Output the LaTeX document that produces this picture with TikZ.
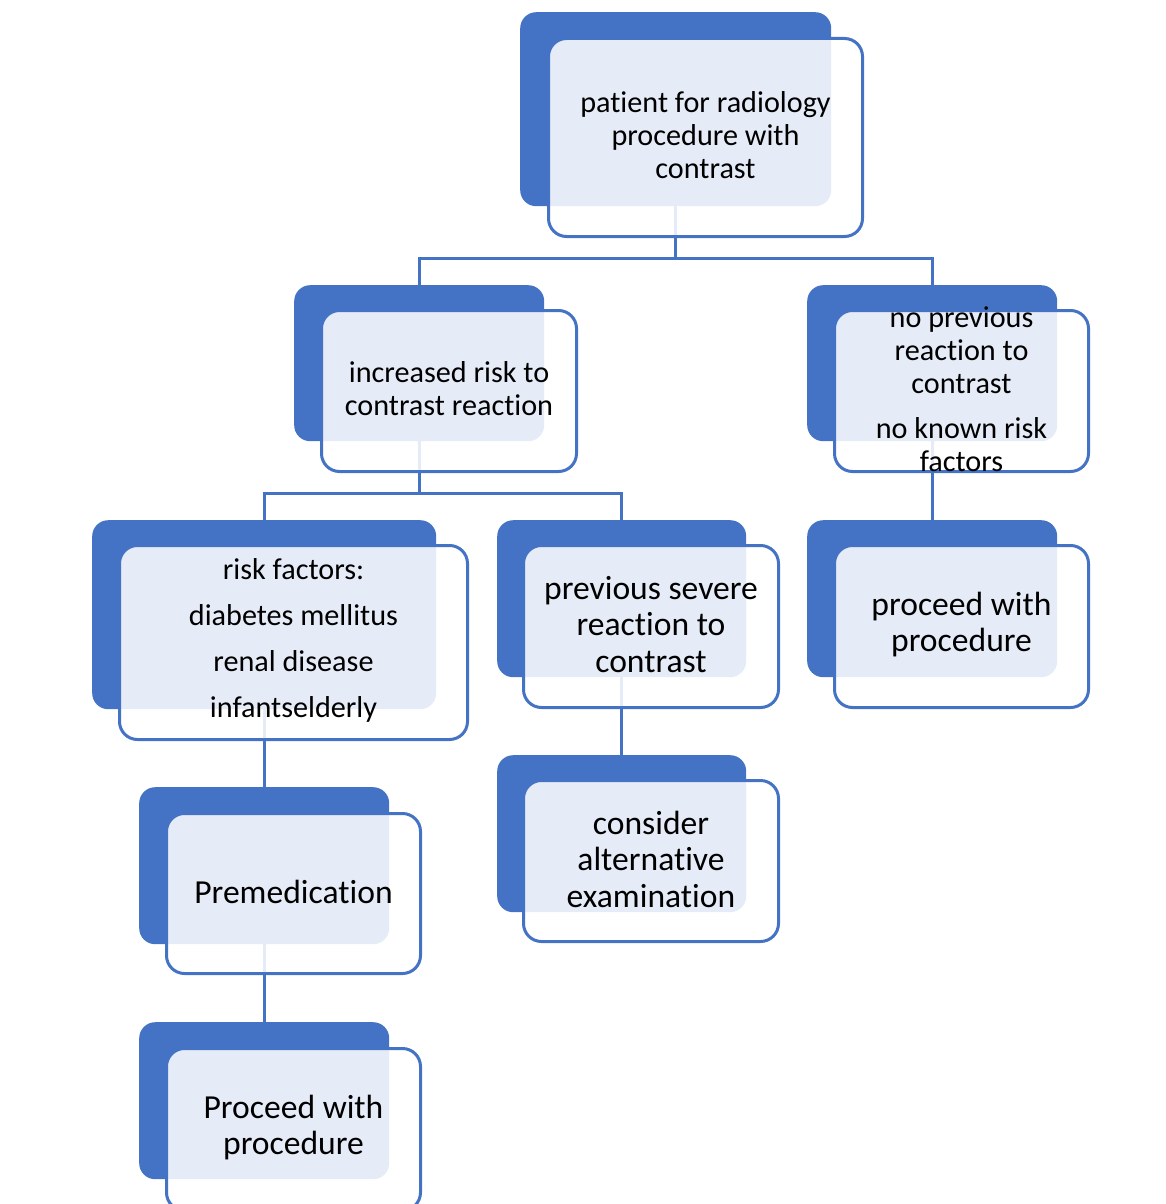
\documentclass[tikz,border=0pt]{standalone}
\usepackage{fontspec}
\setmainfont{Carlito}[Ligatures=NoCommon]
\usetikzlibrary{positioning}
\definecolor{accent}{HTML}{4472C4}
\pgfdeclarelayer{background}
\pgfsetlayers{background,main}

\begin{document}
\begin{tikzpicture}[x=1pt,y=-1pt,
  back/.style={fill=accent,rounded corners=16pt,anchor=north west,inner sep=0pt},
  front/.style={draw=accent,line width=3pt,fill=white,fill opacity=0.87,draw opacity=1,
    rounded corners=18pt,anchor=north west,inner sep=0pt},
  txt/.style={align=center,text=black,inner sep=0pt,yshift=2pt,font=\fontsize{30.2}{33}\selectfont},
  big/.style={txt,font=\fontsize{33.6}{36.5}\selectfont},
  link/.style={draw=accent,line width=3pt}]
  \clip (0,0) rectangle (1166,1204);

  % top
  \node[back,minimum width=311pt,minimum height=194pt] (b1) at (520,12) {};
  \node[front,minimum width=314pt,minimum height=198pt] (f1) at ([shift={(27,25)}]b1.north west) {};
  \node[txt] (t1) at (f1.center) {patient for radiology\\procedure with\\contrast};

  % second row
  \node[back,minimum width=250pt,minimum height=156pt] (b2) at (294,285) {};
  \node[front,minimum width=255pt,minimum height=161pt] (f2) at ([shift={(26,24)}]b2.north west) {};
  \node[txt] (t2) at (f2.center) {increased risk to\\contrast reaction};

  \node[back,minimum width=250pt,minimum height=156pt] (b3) at (807,285) {};
  \node[front,minimum width=254pt,minimum height=161pt] (f3) at ([shift={(26,24)}]b3.north west) {};
  \node[txt] (t3) at (f3.center) {no previous\\reaction to\\contrast\\[12pt]no known risk\\factors};

  % third row
  \node[back,minimum width=344pt,minimum height=189pt] (b4) at (92,520) {};
  \node[front,minimum width=348pt,minimum height=194pt] (f4) at ([shift={(26,24)}]b4.north west) {};
  \node[txt,font=\fontsize{30.2}{46}\selectfont] (t4) at (f4.center) {risk factors:\\diabetes mellitus\\renal disease\\infantselderly};

  \node[back,minimum width=249pt,minimum height=157pt] (b5) at (497,520) {};
  \node[front,minimum width=255pt,minimum height=162pt] (f5) at ([shift={(25,24)}]b5.north west) {};
  \node[big] (t5) at (f5.center) {previous severe\\reaction to\\contrast};

  \node[back,minimum width=250pt,minimum height=157pt] (b6) at (807,520) {};
  \node[front,minimum width=254pt,minimum height=162pt] (f6) at ([shift={(26,24)}]b6.north west) {};
  \node[big] (t6) at (f6.center) {proceed with\\procedure};

  % lower rows
  \node[back,minimum width=250pt,minimum height=157pt] (b7) at (139,787) {};
  \node[front,minimum width=254pt,minimum height=160pt] (f7) at ([shift={(26,25)}]b7.north west) {};
  \node[big] (t7) at (f7.center) {Premedication};

  \node[back,minimum width=250pt,minimum height=157pt] (b8) at (139,1022) {};
  \node[front,minimum width=254pt,minimum height=162pt] (f8) at ([shift={(26,25)}]b8.north west) {};
  \node[big] (t8) at (f8.center) {Proceed with\\procedure};

  \node[back,minimum width=249pt,minimum height=157pt] (b9) at (497,755) {};
  \node[front,minimum width=255pt,minimum height=161pt] (f9) at ([shift={(25,24)}]b9.north west) {};
  \node[big] (t9) at (f9.center) {consider\\alternative\\examination};

  \begin{pgfonlayer}{background}
    \coordinate (j1) at (b1.south |- 0,258);
    \coordinate (j2) at (b2.south |- 0,493);
    \draw[link] (b1.south) -- (j1) -| (b2.north);
    \draw[link] (j1) -| (b3.north);
    \draw[link] (b2.south) -- (j2) -| (b4.north);
    \draw[link] (j2) -| (b5.north);
    \draw[link] (b3.south) -- (b6.north);
    \draw[link] (b4.south) -- (b7.north);
    \draw[link] (b7.south) -- (b8.north);
    \draw[link] (b5.south) -- (b9.north);
  \end{pgfonlayer}
\end{tikzpicture}
\end{document}
